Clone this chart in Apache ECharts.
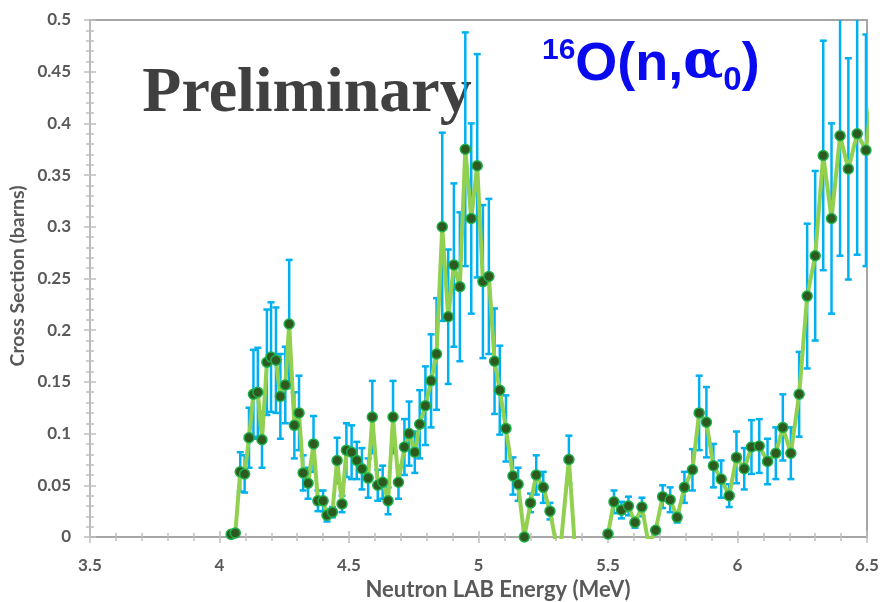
<!DOCTYPE html>
<html>
<head>
<meta charset="utf-8">
<script src="https://cdn.jsdelivr.net/npm/echarts@6/dist/echarts.min.js"></script>
<style>
  html, body { margin: 0; padding: 0; background: #ffffff; }
  #chart { width: 883px; height: 602px; }
</style>
</head>
<body>
<div id="chart"></div>
<script>
// Neutron energy (MeV)
const energy = [
  4.045, 4.061, 4.080, 4.097, 4.114, 4.131, 4.148, 4.164, 4.183, 4.199,
  4.218, 4.235, 4.254, 4.269, 4.289, 4.307, 4.323, 4.342, 4.363, 4.380,
  4.400, 4.415, 4.436, 4.454, 4.473, 4.490, 4.510, 4.530, 4.550, 4.574,
  4.590, 4.611, 4.630, 4.651, 4.670, 4.691, 4.714, 4.732, 4.754, 4.773,
  4.795, 4.817, 4.838, 4.860, 4.883, 4.905, 4.928, 4.949, 4.972, 4.995,
  5.017, 5.040, 5.062, 5.082, 5.106, 5.133, 5.153, 5.177, 5.201, 5.223,
  5.250, 5.276, 5.312, 5.349, 5.375, 5.398, 5.425, 5.448, 5.475, 5.500,
  5.523, 5.552, 5.579, 5.604, 5.631, 5.657, 5.684, 5.711, 5.740, 5.767,
  5.795, 5.826, 5.852, 5.880, 5.907, 5.937, 5.968, 5.996, 6.026, 6.054,
  6.084, 6.116, 6.148, 6.175, 6.206, 6.238, 6.269, 6.300, 6.331, 6.363,
  6.396, 6.428, 6.462, 6.496, 6.525
];

// 16O(n,alpha0) cross section (barns)
const xsec = [
  0.0026, 0.0039, 0.063, 0.061, 0.096, 0.138, 0.140, 0.094, 0.169, 0.174,
  0.171, 0.136, 0.147, 0.206, 0.108, 0.120, 0.062, 0.052, 0.090, 0.035,
  0.035, 0.021, 0.024, 0.074, 0.032, 0.084, 0.082, 0.074, 0.066, 0.057,
  0.116, 0.050, 0.053, 0.035, 0.116, 0.053, 0.087, 0.100, 0.082, 0.109,
  0.127, 0.151, 0.177, 0.300, 0.213, 0.263, 0.242, 0.375, 0.308, 0.359,
  0.247, 0.252, 0.170, 0.142, 0.105, 0.059, 0.051, 0.000, 0.033, 0.060,
  0.048, 0.025, -0.023, 0.075, -0.020, -0.050, -0.030, -0.020, -0.040, 0.003,
  0.034, 0.026, 0.030, 0.014, 0.029, -0.007, 0.0065, 0.039, 0.036, 0.019,
  0.048, 0.065, 0.120, 0.111, 0.069, 0.056, 0.040, 0.077, 0.066, 0.087,
  0.088, 0.073, 0.081, 0.106, 0.081, 0.138, 0.233, 0.272, 0.369, 0.308,
  0.388, 0.356, 0.390, 0.374, 0.440
];

// Uncertainty of each cross section value (barns)
const xsecErr = [
  0.002, 0.002, 0.019, 0.018, 0.029, 0.043, 0.043, 0.027, 0.051, 0.053,
  0.051, 0.041, 0.037, 0.062, 0.032, 0.036, 0.017, 0.015, 0.027, 0.010,
  0.010, 0.006, 0.005, 0.022, 0.008, 0.026, 0.026, 0.018, 0.020, 0.019,
  0.035, 0.015, 0.016, 0.013, 0.035, 0.016, 0.027, 0.031, 0.020, 0.033,
  0.038, 0.045, 0.054, 0.091, 0.065, 0.079, 0.072, 0.113, 0.092, 0.108,
  0.074, 0.075, 0.051, 0.043, 0.032, 0.018, 0.016, 0.000, 0.009, 0.019,
  0.015, 0.008, 0.007, 0.023, 0.006, 0.015, 0.009, 0.006, 0.012, 0.002,
  0.011, 0.008, 0.009, 0.005, 0.009, 0.003, 0.003, 0.011, 0.012, 0.005,
  0.015, 0.020, 0.036, 0.034, 0.021, 0.018, 0.011, 0.025, 0.020, 0.026,
  0.026, 0.022, 0.025, 0.032, 0.025, 0.041, 0.070, 0.082, 0.111, 0.092,
  0.116, 0.107, 0.117, 0.112, 0.130
];

const xRange = [3.5, 6.5];
const xStep = 0.5;
const yRange = [0, 0.5];
const yStep = 0.05;

const points = energy.map((e, i) => [e, xsec[i]]);
const bars = energy.map((e, i) => [e, xsec[i] - xsecErr[i], xsec[i] + xsecErr[i]]);

const labelFont = { fontFamily: 'Lato', fontWeight: 'bold', fontSize: 17, color: '#595959' };

function xAxisDef(inside) {
  return {
    type: 'value', min: xRange[0], max: xRange[1], interval: xStep,
    position: 'bottom',
    axisLine: { show: !inside, onZero: false, lineStyle: { color: '#A6A6A6', width: 2 } },
    axisTick: { show: true, inside: inside, length: 6, lineStyle: { color: '#BFBFBF', width: 1.5 } },
    minorTick: { show: true, splitNumber: 5, length: 4, lineStyle: { color: '#BFBFBF', width: 1.5 } },
    axisLabel: Object.assign({ show: !inside, margin: 20 }, labelFont),
    splitLine: { show: false },
    minorSplitLine: { show: false }
  };
}

function yAxisDef(inside) {
  return {
    type: 'value', min: yRange[0], max: yRange[1], interval: yStep,
    position: 'left',
    axisLine: { show: !inside, onZero: false, lineStyle: { color: '#BFBFBF', width: 1.5 } },
    axisTick: { show: true, inside: inside, length: 6, lineStyle: { color: '#BFBFBF', width: 1.5 } },
    minorTick: { show: true, splitNumber: 5, length: 4, lineStyle: { color: '#BFBFBF', width: 1.5 } },
    axisLabel: Object.assign({ show: !inside, margin: 19 }, labelFont),
    splitLine: { show: false },
    minorSplitLine: { show: false }
  };
}

const chart = echarts.init(document.getElementById('chart'), null, { renderer: 'canvas' });

chart.setOption({
  animation: false,
  backgroundColor: '#ffffff',
  grid: {
    left: 90, right: 16, top: 20, bottom: 65,
    show: true, borderColor: '#A6A6A6', borderWidth: 2, backgroundColor: 'transparent'
  },
  xAxis: [xAxisDef(false), xAxisDef(true)],
  yAxis: [yAxisDef(false), yAxisDef(true)],
  series: [
    {
      // vertical uncertainty bars with caps
      type: 'custom',
      xAxisIndex: 0, yAxisIndex: 0,
      data: bars,
      z: 1,
      clip: true,
      renderItem: function (params, api) {
        const cs = params.coordSys;
        const x = api.value(0);
        const pHi = api.coord([x, api.value(2)]);
        const pLo = api.coord([x, api.value(1)]);
        const top = Math.max(pHi[1], cs.y);
        const bot = Math.min(pLo[1], cs.y + cs.height);
        if (bot <= top) return null;
        const cap = 3.5;
        const style = { stroke: '#00B0F0', lineWidth: 2.5 };
        const kids = [
          { type: 'line', shape: { x1: pHi[0], y1: top, x2: pHi[0], y2: bot }, style: style }
        ];
        if (pHi[1] >= cs.y) {
          kids.push({ type: 'line', shape: { x1: pHi[0] - cap, y1: pHi[1], x2: pHi[0] + cap, y2: pHi[1] }, style: style });
        }
        if (pLo[1] <= cs.y + cs.height) {
          kids.push({ type: 'line', shape: { x1: pLo[0] - cap, y1: pLo[1], x2: pLo[0] + cap, y2: pLo[1] }, style: style });
        }
        return { type: 'group', children: kids };
      }
    },
    {
      type: 'line',
      xAxisIndex: 0, yAxisIndex: 0,
      data: points,
      z: 3,
      clip: true,
      symbol: 'circle',
      symbolSize: 10,
      showAllSymbol: true,
      lineStyle: { color: '#92D050', width: 4 },
      itemStyle: { color: '#2F5A1F', borderColor: '#1DB04A', borderWidth: 1.5 }
    }
  ],
  graphic: [
    {
      type: 'text', x: 18, y: 276, rotation: Math.PI / 2,
      style: {
        text: 'Cross Section (barns)', fill: '#595959',
        font: 'bold 19.5px Lato', align: 'center', verticalAlign: 'middle'
      }
    },
    {
      type: 'text', x: 498, y: 590,
      style: {
        text: 'Neutron LAB Energy (MeV)', fill: '#595959',
        font: 'bold 22px Lato', align: 'center', verticalAlign: 'middle'
      }
    },
    {
      type: 'text', x: 307, y: 94,
      style: {
        text: 'Preliminary', fill: '#404040',
        font: 'bold 64px "Liberation Serif"', align: 'center', verticalAlign: 'middle'
      }
    },
    {
      type: 'text', x: 542, y: 36,
      style: {
        text: '{sup|16}{main|O(n,}{greek|α}{sub|0}{main|)}',
        align: 'left', verticalAlign: 'top',
        rich: {
          sup: { fill: '#0A0AEE', fontFamily: 'Liberation Sans', fontWeight: 'bold', fontSize: 30, verticalAlign: 'top', padding: [0, 0, 0, 0] },
          main: { fill: '#0A0AEE', fontFamily: 'Liberation Sans', fontWeight: 'bold', fontSize: 54, verticalAlign: 'top', padding: [2, 0, 0, 0] },
          greek: { fill: '#0A0AEE', fontFamily: 'DejaVu Serif', fontWeight: 'bold', fontSize: 52, verticalAlign: 'top', padding: [1, 0, 0, 0] },
          sub: { fill: '#0A0AEE', fontFamily: 'Liberation Sans', fontWeight: 'bold', fontSize: 33, verticalAlign: 'top', padding: [28, 0, 0, 0] }
        }
      }
    }
  ]
});
</script>
</body>
</html>
